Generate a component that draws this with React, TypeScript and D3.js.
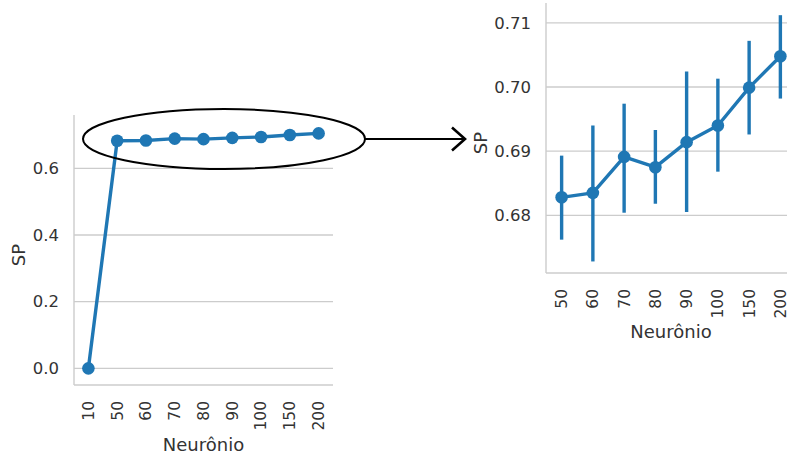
import React from "react";
import * as d3 from "d3";

const leftCategories = ["10", "50", "60", "70", "80", "90", "100", "150", "200"];
const leftValues = [0.0, 0.6828, 0.6835, 0.6891, 0.6875, 0.6914, 0.694, 0.6999, 0.7048];
const leftTicks = [0.0, 0.2, 0.4, 0.6];

const rightCategories = ["50", "60", "70", "80", "90", "100", "150", "200"];
const rightValues = [0.6828, 0.6835, 0.6891, 0.6875, 0.6914, 0.694, 0.6999, 0.7048];
const rightLower = [0.6762, 0.6728, 0.6804, 0.6818, 0.6805, 0.6868, 0.6926, 0.6982];
const rightUpper = [0.6893, 0.694, 0.6974, 0.6933, 0.7024, 0.7013, 0.7072, 0.7112];
const rightTicks = [0.68, 0.69, 0.7, 0.71];

const BLUE = "#1f77b4";
const GRID = "#cccccc";
const TEXT = "#333333";
const FONT = "DejaVu Sans, sans-serif";
const FS_Y = 16.5;
const FS_X = 15.5;
const FS_L = 18;

type PanelProps = {
  cats: string[];
  vals: number[];
  lo?: number[];
  hi?: number[];
  ticks: number[];
  fmt: (v: number) => string;
  x0: number;
  x1: number;
  y0: number;
  y1: number;
  domain: [number, number];
  gridEnd: number;
  ylabelX: number;
  xlabelY: number;
};

function Panel(p: PanelProps) {
  const x = d3.scalePoint<string>().domain(p.cats).range([p.x0, p.x1]).padding(0.5);
  const y = d3.scaleLinear().domain(p.domain).range([p.y1, p.y0]);
  const line = d3
    .line<number>()
    .x((_, i) => x(p.cats[i]) as number)
    .y((d) => y(d));
  const cx = (p.x0 + p.x1) / 2;
  const cy = (p.y0 + p.y1) / 2 + 5;
  return (
    <g fontFamily={FONT} fill={TEXT}>
      {p.ticks.map((t) => (
        <g key={t}>
          <line x1={p.x0} x2={p.gridEnd} y1={y(t)} y2={y(t)} stroke={GRID} strokeWidth={1.3} />
          <text x={p.x0 - 15} y={y(t)} dy="0.35em" textAnchor="end" fontSize={FS_Y}>
            {p.fmt(t)}
          </text>
        </g>
      ))}
      <line x1={p.x0} x2={p.x0} y1={p.y0} y2={p.y1} stroke={GRID} strokeWidth={1.4} />
      <line x1={p.x0} x2={p.gridEnd} y1={p.y1} y2={p.y1} stroke={GRID} strokeWidth={1.4} />
      {p.lo &&
        p.hi &&
        p.cats.map((c, i) => (
          <line
            key={"e" + c}
            x1={x(c)}
            x2={x(c)}
            y1={y(p.lo![i])}
            y2={y(p.hi![i])}
            stroke={BLUE}
            strokeWidth={3.4}
          />
        ))}
      <path d={line(p.vals) || ""} fill="none" stroke={BLUE} strokeWidth={3.4} strokeLinejoin="round" />
      {p.cats.map((c, i) => (
        <circle key={"m" + c} cx={x(c)} cy={y(p.vals[i])} r={6.3} fill={BLUE} />
      ))}
      {p.cats.map((c) => (
        <text
          key={"t" + c}
          transform={`translate(${x(c)},${p.y1 + 16}) rotate(-90)`}
          textAnchor="end"
          dy="0.35em"
          fontSize={FS_X}
        >
          {c}
        </text>
      ))}
      <text x={cx} y={p.xlabelY} dy="0.35em" textAnchor="middle" fontSize={FS_L}>
        Neurônio
      </text>
      <text
        transform={`translate(${p.ylabelX},${cy}) rotate(-90)`}
        textAnchor="middle"
        dy="0.35em"
        fontSize={FS_L}
      >
        SP
      </text>
    </g>
  );
}

export default function App() {
  return (
    <svg
      width={787}
      height={456}
      style={{ position: "absolute", left: 0, top: 0, background: "#fff" }}
    >
      <rect x={0} y={0} width={787} height={456} fill="#fff" />
      <Panel
        cats={leftCategories}
        vals={leftValues}
        ticks={leftTicks}
        fmt={d3.format(".1f")}
        x0={74}
        x1={333}
        y0={115}
        y1={385}
        domain={[-0.05, 0.76]}
        gridEnd={333}
        ylabelX={19}
        xlabelY={445}
      />
      <Panel
        cats={rightCategories}
        vals={rightValues}
        lo={rightLower}
        hi={rightUpper}
        ticks={rightTicks}
        fmt={d3.format(".2f")}
        x0={546}
        x1={796}
        y0={3}
        y1={273}
        domain={[0.671, 0.7131]}
        gridEnd={796}
        ylabelX={481}
        xlabelY={332}
      />
      <ellipse cx={224} cy={139} rx={141} ry={30} fill="none" stroke="#000" strokeWidth={2} />
      <line x1={365} x2={465} y1={139} y2={139} stroke="#000" strokeWidth={2} />
      <polyline
        points="452,127.5 465,139 452,150.5"
        fill="none"
        stroke="#000"
        strokeWidth={2.6}
      />
    </svg>
  );
}
